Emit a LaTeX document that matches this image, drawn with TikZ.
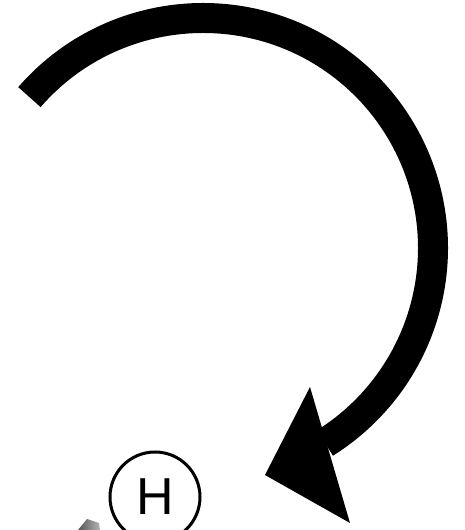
\documentclass[tikz,border=0pt]{standalone}
\usepackage{fontspec}
\setmainfont{Liberation Sans}
\usetikzlibrary{calc}

\begin{document}
\begin{tikzpicture}[x=1pt, y=1pt]
    % Define colours
    \definecolor{arrowColour}{HTML}{000000}
    \definecolor{blobDark}{HTML}{555555}
    \definecolor{blobLight}{HTML}{B5B5B5}

    % Define arrow size
    \def\arcRadius{230}
    \def\arcWidth{30}

  % Fix the frame
  \useasboundingbox (0,0) rectangle (464,530);

  % Centre of the curved arrow and its head
  \coordinate (centre) at (203,282);
  \coordinate (tip) at (265,55);
  \coordinate (barbA) at (310,143);
  \coordinate (barbB) at (350,7);

  % Draw the curved shaft
  \draw[arrowColour, line width=\arcWidth pt] (centre) ++(139:\arcRadius)
    arc[start angle=139, end angle=-58, radius=\arcRadius pt];

  % Draw the arrow head
  \fill[arrowColour] (tip) -- (barbA) -- (barbB) -- cycle;

  % Draw the circled H
  \node[circle, draw, line width=3pt, minimum size=90pt, inner sep=0pt,
        font=\fontsize{52}{60}\selectfont] (H) at (155,33) {H};

  % Piece of the bond below
  \shade[left color=blobDark, right color=blobLight] (78,0) -- (87,11) -- (99,7) -- (100,0) -- cycle;

\end{tikzpicture}
\end{document}
